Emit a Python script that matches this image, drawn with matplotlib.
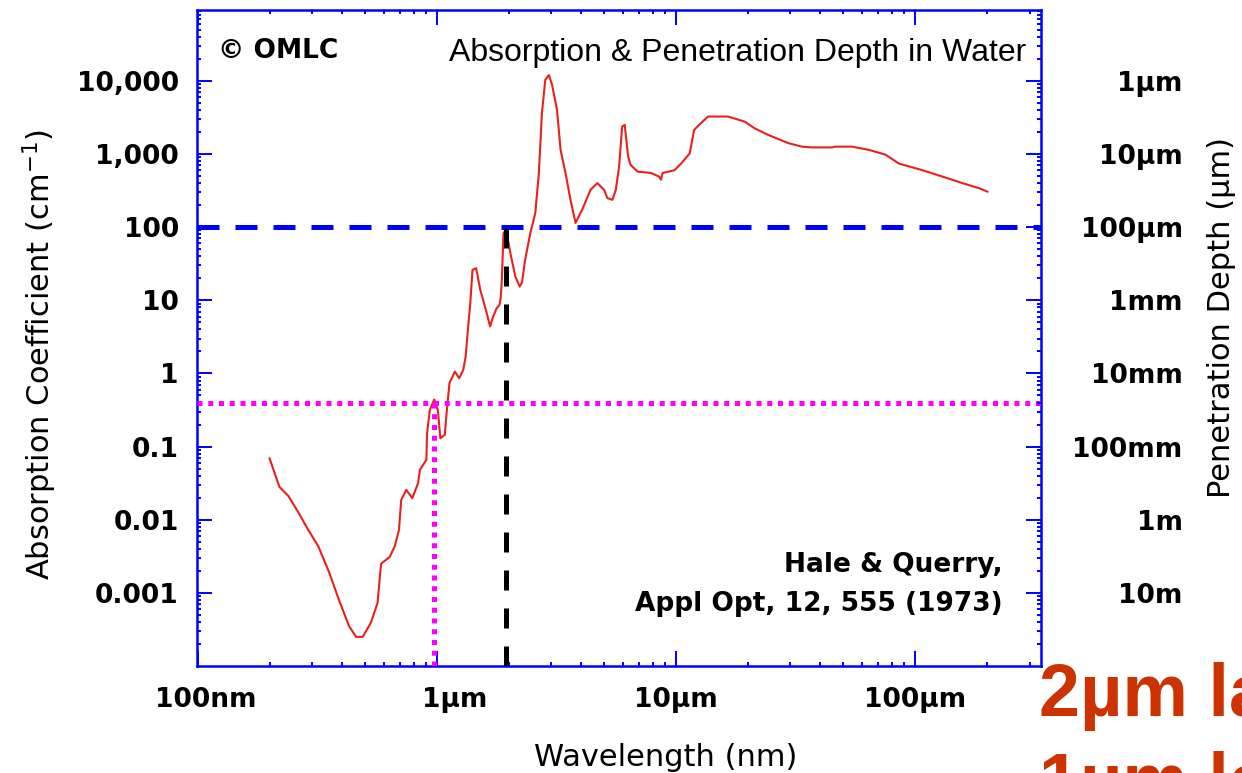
import matplotlib.pyplot as plt
import matplotlib.transforms as mtransforms
from matplotlib.ticker import LogLocator, NullFormatter

# water absorption coefficient (Hale & Querry 1973): wavelength in um, alpha in 1/cm
wavelength_um = [0.20, 0.22, 0.24, 0.265, 0.29, 0.32, 0.355, 0.39, 0.43, 0.46,
                 0.49, 0.53, 0.565, 0.585, 0.635, 0.667, 0.695, 0.71, 0.745, 0.79,
                 0.835, 0.85, 0.905, 0.91, 0.935, 0.975, 1.01, 1.035, 1.08, 1.10,
                 1.13, 1.19, 1.24, 1.29, 1.32, 1.35, 1.38, 1.41, 1.46, 1.52,
                 1.59, 1.67, 1.72, 1.78, 1.83, 1.85, 1.87, 1.90, 1.95, 2.03,
                 2.13, 2.22, 2.27, 2.34, 2.46, 2.58, 2.67, 2.75, 2.84, 2.94,
                 3.03, 3.18, 3.29, 3.45, 3.62, 3.80, 4.05, 4.39, 4.69, 4.84,
                 5.0, 5.16, 5.42, 5.6, 5.78, 5.95, 6.1, 6.3, 6.45, 6.9,
                 7.85, 8.5, 8.65, 8.79, 9.84, 10.5, 11.4, 11.9, 12.7, 13.6,
                 16.5, 19.4, 21.3, 24.3, 29.4, 33.5, 36.9, 44.8, 46.2, 54.3,
                 63.8, 75, 85.3, 107, 130, 157, 185, 200]
absorption_cm = [0.069, 0.028, 0.021, 0.0123, 0.0073, 0.0043, 0.0019, 0.0008, 0.00035, 0.00025,
                 0.00025, 0.00039, 0.00072, 0.0025, 0.0031, 0.0043, 0.0073, 0.0186, 0.0256, 0.0197,
                 0.0316, 0.048, 0.066, 0.15, 0.316, 0.44, 0.316, 0.13, 0.145, 0.30,
                 0.74, 1.06, 0.86, 1.12, 1.7, 4.1, 9.1, 26, 27.5, 13.8,
                 8.2, 4.4, 6.0, 7.8, 8.7, 11, 19, 83, 92, 44,
                 21, 15.4, 17.6, 36, 83, 156, 550, 3630, 10300, 12000,
                 8900, 4000, 1140, 550, 236, 114, 173, 324, 400, 360,
                 324, 250, 236, 324, 675, 2370, 2500, 930, 710, 575,
                 550, 490, 445, 550, 600, 740, 1020, 2140, 2640, 3250,
                 3250, 2760, 2240, 1820, 1410, 1260, 1230, 1230, 1260, 1260,
                 1140, 980, 740, 600, 490, 400, 340, 306]

x_ticks = [0.1, 1, 10, 100]
x_tick_labels = ['100nm', '1µm', '10µm', '100µm']
y_ticks = [1e4, 1e3, 1e2, 1e1, 1, 0.1, 0.01, 0.001]
y_tick_labels = ['10,000', '1,000', '100', '10', '1', '0.1', '0.01', '0.001']
depth_labels = ['1µm', '10µm', '100µm', '1mm', '10mm', '100mm', '1m', '10m']

# laser markers
laser_2um_wl = 1.94
laser_2um_abs = 100
laser_1um_wl = 0.975
laser_1um_abs = 0.4

x_range = (0.0995, 335)
y_range = (1e-4, 9.3e4)

blue = '#0000ff'
tick_font = dict(family='DejaVu Sans', weight='bold', size=19)
label_font = dict(family='DejaVu Sans', size=22)

fig = plt.figure(figsize=(12.42, 7.73), dpi=100)
ax = fig.add_axes([197 / 1242, 107 / 773, 844 / 1242, 656 / 773])

ax.plot(wavelength_um, absorption_cm, color='#e8201e', lw=1.5, zorder=2)

ax.axhline(laser_2um_abs, color=blue, lw=3.6, dashes=(4.4, 3.2), zorder=3)
ax.plot([laser_2um_wl, laser_2um_wl], [y_range[0], laser_2um_abs * 1.15],
        color='black', lw=3.6, dashes=(4.0, 3.6), zorder=3)
ax.axhline(laser_1um_abs, color='#ff00ff', lw=3.6, dashes=(1.0, 1.15), zorder=3)
ax.plot([laser_1um_wl, laser_1um_wl], [y_range[0], laser_1um_abs],
        color='#ff00ff', lw=3.6, dashes=(1.0, 1.15), zorder=3)

ax.set_xscale('log')
ax.set_yscale('log')
ax.set_xlim(*x_range)
ax.set_ylim(*y_range)

ax.set_xticks(x_ticks)
ax.set_xticklabels(x_tick_labels, fontdict=tick_font)
ax.set_yticks(y_ticks)
ax.set_yticklabels(y_tick_labels, fontdict=tick_font)
ax.xaxis.set_minor_locator(LogLocator(base=10, subs=range(2, 10), numticks=20))
ax.yaxis.set_minor_locator(LogLocator(base=10, subs=range(2, 10), numticks=20))
ax.xaxis.set_minor_formatter(NullFormatter())
ax.yaxis.set_minor_formatter(NullFormatter())
ax.tick_params(which='both', direction='in', color=blue, width=1.4,
               top=True, right=False)
ax.tick_params(which='major', length=11)
ax.tick_params(which='minor', length=3)
ax.tick_params(axis='x', which='major', pad=15)
ax.tick_params(axis='y', which='major', pad=13)
for side in ax.spines.values():
    side.set_color(blue)
    side.set_linewidth(1.8)

# nudge the first two wavelength labels to the right
for lbl, dx in zip(ax.get_xticklabels(), [8, 18, 0, 0]):
    lbl.set_transform(lbl.get_transform() +
                      mtransforms.ScaledTranslation(dx / 100, 0, fig.dpi_scale_trans))

# penetration depth = 1 / alpha on the right
ax2 = ax.twinx()
ax2.set_yscale('log')
ax2.set_ylim(*y_range)
ax2.set_yticks(y_ticks)
ax2.set_yticklabels(depth_labels, fontdict=tick_font, ha='right')
ax2.yaxis.set_minor_locator(LogLocator(base=10, subs=range(2, 10), numticks=20))
ax2.yaxis.set_minor_formatter(NullFormatter())
ax2.tick_params(which='both', direction='in', color=blue, width=1.4)
ax2.tick_params(which='major', length=11, pad=102)
ax2.tick_params(which='minor', length=3)
for side in ax2.spines.values():
    side.set_visible(False)

ax.text(0.025, 0.927, '© OMLC', transform=ax.transAxes, va='baseline', **tick_font)
ax.text(0.983, 0.922, 'Absorption & Penetration Depth in Water', transform=ax.transAxes,
        ha='right', va='baseline', family='Liberation Sans', size=23)
ax.text(0.955, 0.143, 'Hale & Querry,', transform=ax.transAxes,
        ha='right', va='baseline', **tick_font)
ax.text(0.955, 0.084, 'Appl Opt, 12, 555 (1973)', transform=ax.transAxes,
        ha='right', va='baseline', **tick_font)

fig.text(666 / 1242, 1 - 757 / 773, 'Wavelength (nm)', ha='center', va='center',
         **label_font)
fig.text(40 / 1242, 1 - 355 / 773, 'Absorption Coefficient (cm$^{-1}$)', rotation=90,
         ha='center', va='center', **label_font)
fig.text(1222 / 1242, 1 - 318 / 773, 'Penetration Depth (µm)', rotation=90,
         ha='center', va='center', **label_font)

# slide captions running off the edge
fig.text(1039 / 1242, 1 - 716 / 773, '2µm laser', ha='left', va='baseline',
         family='Liberation Sans', weight='bold', size=53, color='#cc3300')
fig.text(1039 / 1242, 1 - 805 / 773, '1µm laser', ha='left', va='baseline',
         family='Liberation Sans', weight='bold', size=53, color='#cc3300')

fig.savefig('out.png', dpi=100)
